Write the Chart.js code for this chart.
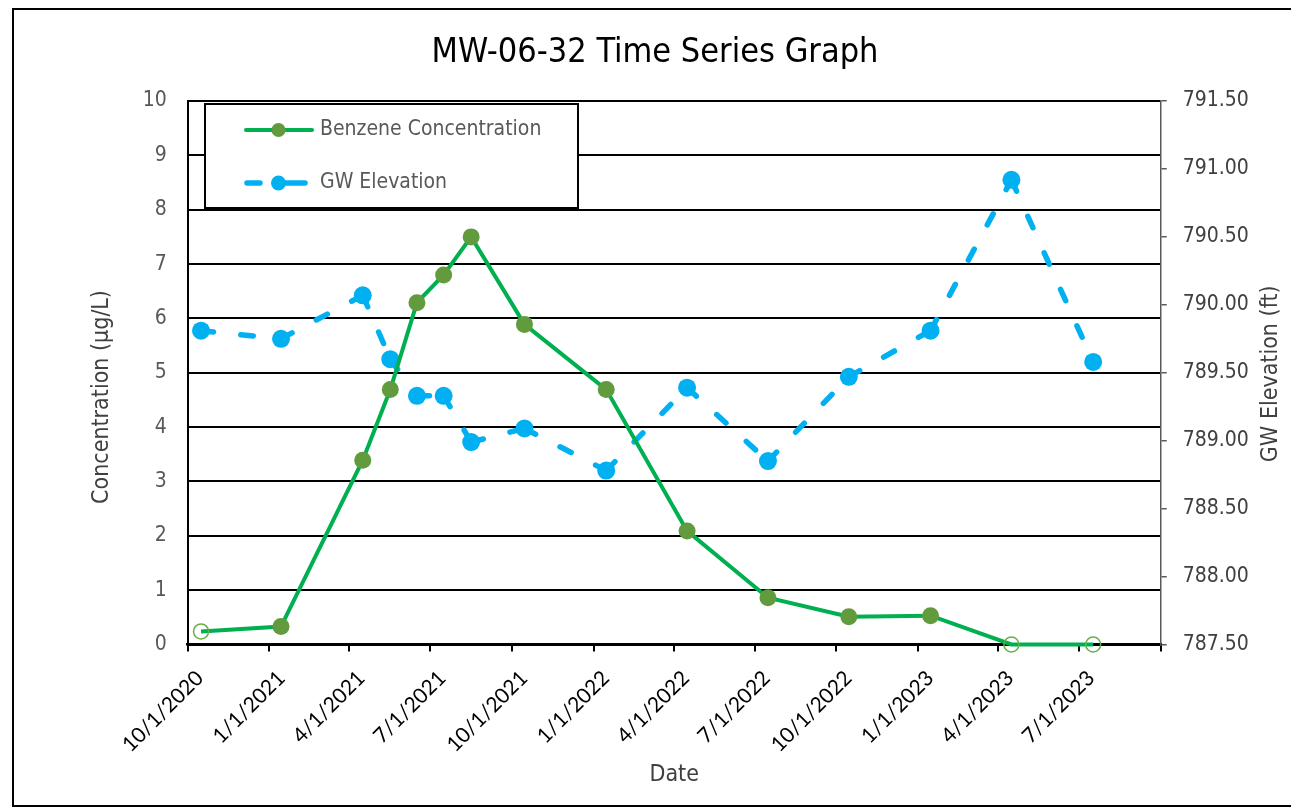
<!DOCTYPE html>
<html>
<head>
<meta charset="utf-8">
<script src="https://cdn.jsdelivr.net/npm/chart.js@4.4.0/dist/chart.umd.min.js"></script>
<style>
html,body{margin:0;padding:0;background:#fff;}
#wrap{width:1291px;height:808px;position:relative;}
</style>
</head>
<body>
<div id="wrap"><canvas id="c" width="1291" height="808"></canvas></div>
<script>
// ---- data ----
const sampleDates = ['2020-10-16','2021-01-14','2021-04-16','2021-05-17','2021-06-16','2021-07-16','2021-08-16','2021-10-15','2022-01-15','2022-04-16','2022-07-16','2022-10-15','2023-01-15','2023-04-16','2023-07-17'];
const benzene = [0.24,0.33,3.39,4.69,6.29,6.80,7.50,5.89,4.69,2.09,0.86,0.51,0.53,0,0];
const nonDetect = [true,false,false,false,false,false,false,false,false,false,false,false,false,true,true];
const gwElevation = [789.81,789.75,790.07,789.60,789.33,789.33,788.99,789.09,788.78,789.39,788.85,789.47,789.81,790.92,789.58];
const tickDates = ['2020-10-01','2021-01-01','2021-04-01','2021-07-01','2021-10-01','2022-01-01','2022-04-01','2022-07-01','2022-10-01','2023-01-01','2023-04-01','2023-07-01','2023-10-01'];
const unlabeledTicks = ['2023-10-01'];
const titleText = 'MW-06-32 Time Series Graph';
const seriesNames = ['Benzene Concentration','GW Elevation'];
const axisTitles = {x:'Date', y:'Concentration (µg/L)', y2:'GW Elevation (ft)'};

const DAY = 86400000;
function toDay(s){const p=s.split('-').map(Number);return Date.UTC(p[0],p[1]-1,p[2])/DAY;}
function fmtDay(d){const dt=new Date(Math.round(d)*DAY);return (dt.getUTCMonth()+1)+'/'+dt.getUTCDate()+'/'+dt.getUTCFullYear();}

const NARROW = "'Liberation Sans Narrow','DejaVu Sans Condensed','Arial Narrow',sans-serif";
const CAL = "Lato,'Open Sans',sans-serif";
const GREEN='#00B050', OLIVE='#629A3E', OPEN='#6AAE48', BLUE='#00B0F0';

const benzPts = sampleDates.map((d,i)=>({x:toDay(d),y:benzene[i]}));
const gwPts = sampleDates.map((d,i)=>({x:toDay(d),y:gwElevation[i]}));
const tickVals = tickDates.map(toDay);
const blankSet = new Set(unlabeledTicks.map(toDay));

const framePlugin = {
  id:'frame',
  beforeDraw(chart){
    const ctx=chart.ctx;ctx.save();
    ctx.fillStyle='#fff';ctx.fillRect(0,0,chart.width,chart.height);
    ctx.strokeStyle='#000';ctx.lineWidth=2;
    ctx.strokeRect(13,9,1300,797);
    ctx.restore();
  },
  afterDraw(chart){
    const ctx=chart.ctx;ctx.save();
    // chart title
    ctx.fillStyle='#000';ctx.font="34px "+NARROW;ctx.textAlign='center';ctx.textBaseline='middle';
    ctx.fillText(titleText,655,53);
    const ca=chart.chartArea;
    // left axis title, reading bottom-to-top
    ctx.save();
    ctx.translate(102,397);ctx.rotate(-Math.PI/2);
    ctx.fillStyle='#404040';ctx.font="23px "+NARROW;ctx.textAlign='center';ctx.textBaseline='middle';
    ctx.fillText(axisTitles.y,0,0);
    ctx.restore();
    // right axis title, reading bottom-to-top
    ctx.save();
    ctx.translate(1271,(ca.top+ca.bottom)/2+1);ctx.rotate(-Math.PI/2);
    ctx.fillStyle='#404040';ctx.font="23px "+NARROW;ctx.textAlign='center';ctx.textBaseline='middle';
    ctx.fillText(axisTitles.y2,0,0);
    ctx.restore();
    // legend box
    ctx.fillStyle='#fff';ctx.fillRect(205,104,373,104);
    ctx.strokeStyle='#000';ctx.lineWidth=2;ctx.strokeRect(205,104,373,104);
    // benzene sample
    ctx.strokeStyle=GREEN;ctx.lineWidth=4;ctx.lineCap='round';
    ctx.beginPath();ctx.moveTo(246,130);ctx.lineTo(312,130);ctx.stroke();
    ctx.fillStyle=OLIVE;ctx.beginPath();ctx.arc(278.5,130,7,0,Math.PI*2);ctx.fill();
    // gw sample
    ctx.strokeStyle=BLUE;ctx.lineWidth=5.5;
    ctx.beginPath();ctx.moveTo(247,183);ctx.lineTo(260,183);ctx.moveTo(286,183);ctx.lineTo(305,183);ctx.stroke();
    ctx.fillStyle=BLUE;ctx.beginPath();ctx.arc(278.5,183,7.5,0,Math.PI*2);ctx.fill();
    ctx.fillStyle='#595959';ctx.font="21px "+NARROW;ctx.textBaseline='middle';ctx.textAlign='left';
    ctx.fillText(seriesNames[0],320,130);
    ctx.fillText(seriesNames[1],320,183);
    ctx.restore();
  }
};

new Chart(document.getElementById('c'),{
  type:'line',
  data:{datasets:[
    {label:seriesNames[0],data:benzPts,yAxisID:'y',xAxisID:'x',
     borderColor:GREEN,borderWidth:4,tension:0,clip:false,
     pointRadius:nonDetect.map(n=>n?7.5:8.5),
     pointBackgroundColor:nonDetect.map(n=>n?'rgba(0,0,0,0)':OLIVE),
     pointBorderColor:nonDetect.map(n=>n?OPEN:OLIVE),
     pointBorderWidth:nonDetect.map(n=>n?1.5:0)},
    {label:seriesNames[1],data:gwPts,yAxisID:'y2',xAxisID:'x',
     borderColor:BLUE,borderWidth:5.5,borderDash:[12.5,27.5],borderCapStyle:'round',tension:0,clip:false,
     segment:{borderDashOffset:c=>c.p0DataIndex*0.001},
     pointRadius:9,pointBackgroundColor:BLUE,pointBorderColor:BLUE,pointBorderWidth:0}
  ]},
  options:{
    responsive:false,animation:false,
    layout:{padding:{top:101,left:0,right:0,bottom:0}},
    plugins:{
      legend:{display:false},tooltip:{enabled:false},title:{display:false}
    },
    scales:{
      x:{type:'linear',position:'bottom',min:toDay('2020-10-01'),max:toDay('2023-10-01'),
        afterBuildTicks:s=>{s.ticks=tickVals.map(v=>({value:v}));},
        afterFit:s=>{s.height=163.5;},
        grid:{drawOnChartArea:false,drawTicks:true,tickLength:7,color:'#000',lineWidth:2},
        border:{color:'#000',width:2.5},
        ticks:{autoSkip:false,maxRotation:45,minRotation:45,padding:5,color:'#000',font:{family:CAL,size:21,lineHeight:'17px'},
          callback:v=>blankSet.has(v)?'':['',fmtDay(v)]},
        title:{display:true,text:axisTitles.x,color:'#404040',font:{family:NARROW,size:23},padding:{top:0,bottom:19}}
      },
      y:{position:'left',min:0,max:10,
        afterFit:s=>{s.width=187.7;},
        grid:{color:'#000',lineWidth:2,drawTicks:false},
        border:{color:'#000',width:2},
        ticks:{stepSize:1,padding:21,color:'#595959',font:{family:NARROW,size:21}},
        title:{display:false}
      },
      y2:{position:'right',min:787.5,max:791.5,
        afterFit:s=>{s.width=130.3;},
        grid:{drawOnChartArea:false,drawTicks:true,tickLength:6,color:'#595959',lineWidth:1.5},
        border:{color:'#595959',width:1.5},
        ticks:{stepSize:0.5,padding:16,color:'#404040',font:{family:NARROW,size:21},callback:v=>Number(v).toFixed(2)},
        title:{display:false}
      }
    }
  },
  plugins:[framePlugin]
});
</script>
</body>
</html>
